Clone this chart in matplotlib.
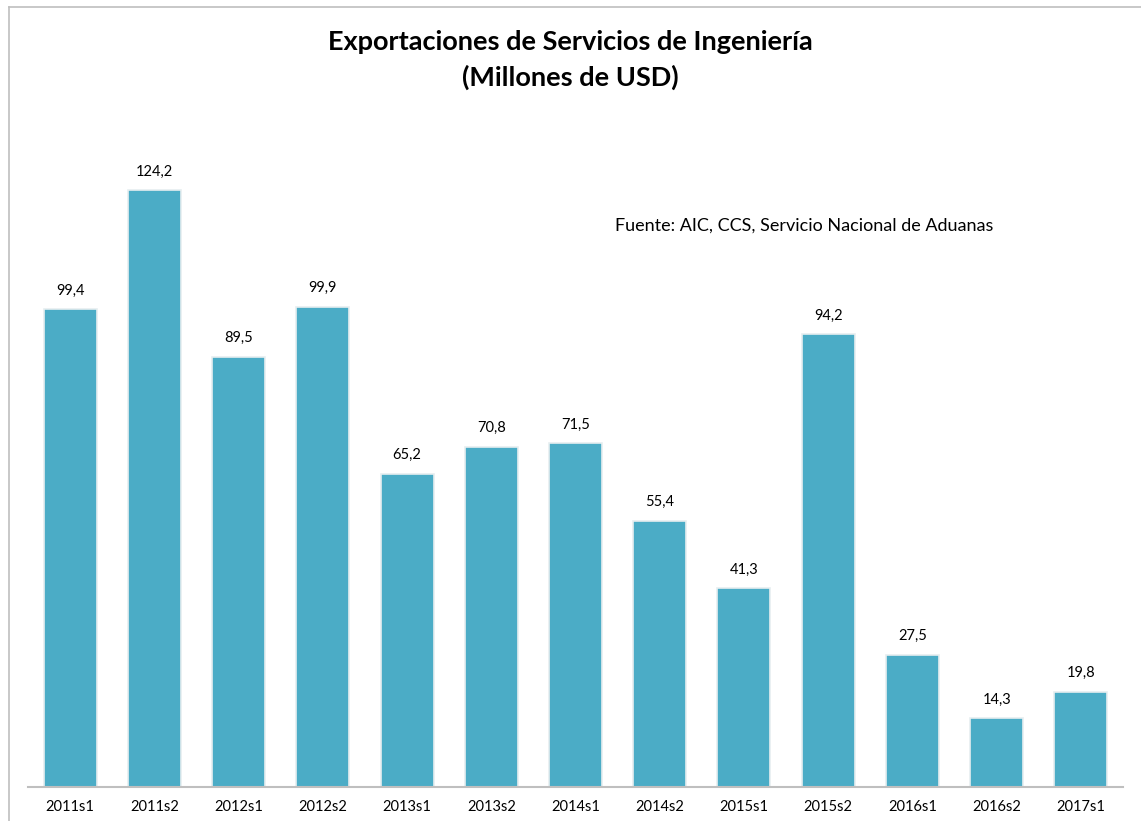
import numpy as np
import matplotlib.pyplot as plt
from matplotlib.lines import Line2D

periodos = ['2011s1', '2011s2', '2012s1', '2012s2', '2013s1', '2013s2', '2014s1',
            '2014s2', '2015s1', '2015s2', '2016s1', '2016s2', '2017s1']
valores = [99.4, 124.2, 89.5, 99.9, 65.2, 70.8, 71.5, 55.4, 41.3, 94.2, 27.5, 14.3, 19.8]

plt.rcParams['font.family'] = ['Lato', 'DejaVu Sans']

W, H = 1141, 821
fig = plt.figure(figsize=(W / 100, H / 100), dpi=100)
ax = fig.add_axes([28 / W, (H - 787) / H, (1123 - 28) / W, (787 - 114) / H])

x = np.arange(len(periodos))
ax.bar(x, valores, width=0.63, color='#4BACC6', edgecolor='#E6EEF0', linewidth=1.2, zorder=2)

for xi, v in zip(x, valores):
    ax.text(xi, v + 2.4, f'{v:.1f}'.replace('.', ','), ha='center', va='bottom', fontsize=10.5)

ax.set_xlim(-0.5, len(periodos) - 0.5)
ax.set_ylim(0, 140)
ax.set_xticks(x)
ax.set_xticklabels(periodos, fontsize=10.5)
ax.tick_params(axis='x', length=0, pad=9)
ax.set_yticks([])
for s in ['top', 'right', 'left']:
    ax.spines[s].set_visible(False)
ax.spines['bottom'].set_color('#BFBFBF')
ax.spines['bottom'].set_linewidth(1.5)

fig.text(0.5, 1 - 42 / H, 'Exportaciones de Servicios de Ingeniería', ha='center', va='center',
         fontsize=19.5, fontweight='bold')
fig.text(0.5, 1 - 77 / H, '(Millones de USD)', ha='center', va='center',
         fontsize=19.5, fontweight='bold')
fig.text(615 / W, 1 - 226 / H, 'Fuente: AIC, CCS, Servicio Nacional de Aduanas', ha='left', va='center',
         fontsize=13)

# marco del grafico
fig.add_artist(Line2D([9 / W, 1.0], [1 - 7 / H, 1 - 7 / H], color='#BFBFBF', linewidth=1.2))
fig.add_artist(Line2D([9 / W, 9 / W], [0, 1 - 7 / H], color='#BFBFBF', linewidth=1.2))

fig.savefig('out.png', dpi=100)
